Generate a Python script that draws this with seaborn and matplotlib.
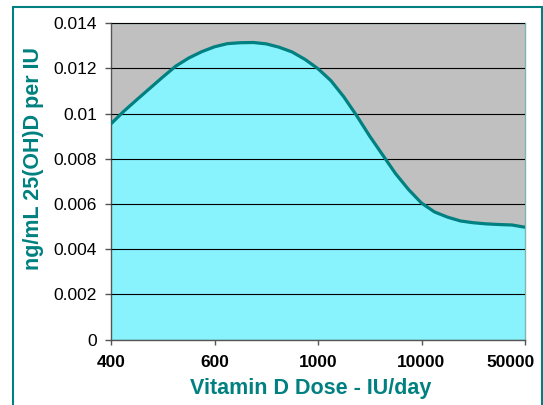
import matplotlib
matplotlib.use("Agg")
import matplotlib.pyplot as plt
import matplotlib.patches as mpatches
import matplotlib.transforms as mtransforms
import seaborn as sns
import pandas as pd

# Category tick labels (equally spaced categorical axis)
tick_labels = ["400", "600", "1000", "10000", "50000"]
# Sample positions along the categorical axis (category index units)
x_pos = [0.0, 0.125, 0.25, 0.375, 0.5, 0.625, 0.75, 0.875,
         1.0, 1.125, 1.25, 1.375, 1.5, 1.625, 1.75, 1.875,
         2.0, 2.125, 2.25, 2.375, 2.5, 2.625, 2.75, 2.875,
         3.0, 3.125, 3.25, 3.375, 3.5, 3.625, 3.75, 3.875, 4.0]
# ng/mL 25(OH)D per IU read at those positions
values = [0.00955, 0.01011, 0.01062, 0.01112, 0.01162, 0.01210, 0.01246, 0.01274,
          0.01296, 0.01310, 0.01314, 0.01315, 0.01309, 0.01294, 0.01273, 0.01240,
          0.01199, 0.01146, 0.01074, 0.00990, 0.00900, 0.00817, 0.00734, 0.00664,
          0.00604, 0.00565, 0.00542, 0.00525, 0.00517, 0.00512, 0.00509, 0.00507, 0.00497]
y_ticks = [0, 0.002, 0.004, 0.006, 0.008, 0.01, 0.012, 0.014]
y_tick_labels = ["0", "0.002", "0.004", "0.006", "0.008", "0.01", "0.012", "0.014"]

sns.set_style("white")
plt.rcParams["font.family"] = ["Liberation Sans", "DejaVu Sans"]

df = pd.DataFrame({"pos": x_pos, "val": values})

W, H = 543, 405
fig = plt.figure(figsize=(W / 100, H / 100), dpi=100)
ax = fig.add_axes([111 / W, (H - 339.5) / H, 414 / W, 316.2 / H])
ax.set_facecolor("#C0C0C0")

ax.fill_between(df["pos"], df["val"], 0, color="#88F3FC", linewidth=0, zorder=1)
sns.lineplot(data=df, x="pos", y="val", ax=ax, color="#008080", linewidth=2.3,
             zorder=3, solid_capstyle="butt", solid_joinstyle="round")

ax.set_xlim(0, 4)
ax.set_ylim(0, 0.014)
ax.set_xticks(range(len(tick_labels)))
ax.set_xticklabels(tick_labels, fontsize=12.5, fontweight="bold", color="black")
ax.set_yticks(y_ticks)
ax.set_yticklabels(y_tick_labels, fontsize=12.5, color="black")

ax.set_axisbelow(False)
ax.yaxis.grid(True, color="black", linewidth=0.8)
ax.xaxis.grid(False)

ax.tick_params(axis="y", direction="out", length=4.5, width=1, color="#555555", pad=5.5, left=True)
ax.tick_params(axis="x", direction="out", length=3.5, width=1, color="#555555", pad=8, bottom=True)

# last category label is pulled inside the chart border
last = ax.get_xticklabels()[-1]
last.set_transform(last.get_transform() + mtransforms.ScaledTranslation(-14 / 100, 0, fig.dpi_scale_trans))

for s in ["left", "bottom"]:
    ax.spines[s].set_color("#555555")
    ax.spines[s].set_linewidth(1.0)
for s in ["top", "right"]:
    ax.spines[s].set_color("#7FB5B5")
    ax.spines[s].set_linewidth(1.0)

ax.set_xlabel("")
ax.set_ylabel("")
fig.text(310.5 / W, (H - 394) / H, "Vitamin D Dose - IU/day", fontsize=15.5, fontweight="bold",
         color="#008080", ha="center", va="baseline")
fig.text(34 / W, (H - 158.5) / H, "ng/mL 25(OH)D per IU", fontsize=15.5, fontweight="bold",
         color="#008080", ha="center", va="center", rotation=90)

# outer chart border
rect = mpatches.Rectangle((13 / W, -0.05), (542 - 13) / W, (H - 7) / H + 0.05,
                          transform=fig.transFigure, fill=False, edgecolor="#008080",
                          linewidth=1.5, clip_on=False)
fig.patches.append(rect)

fig.savefig("out.png", dpi=100)
